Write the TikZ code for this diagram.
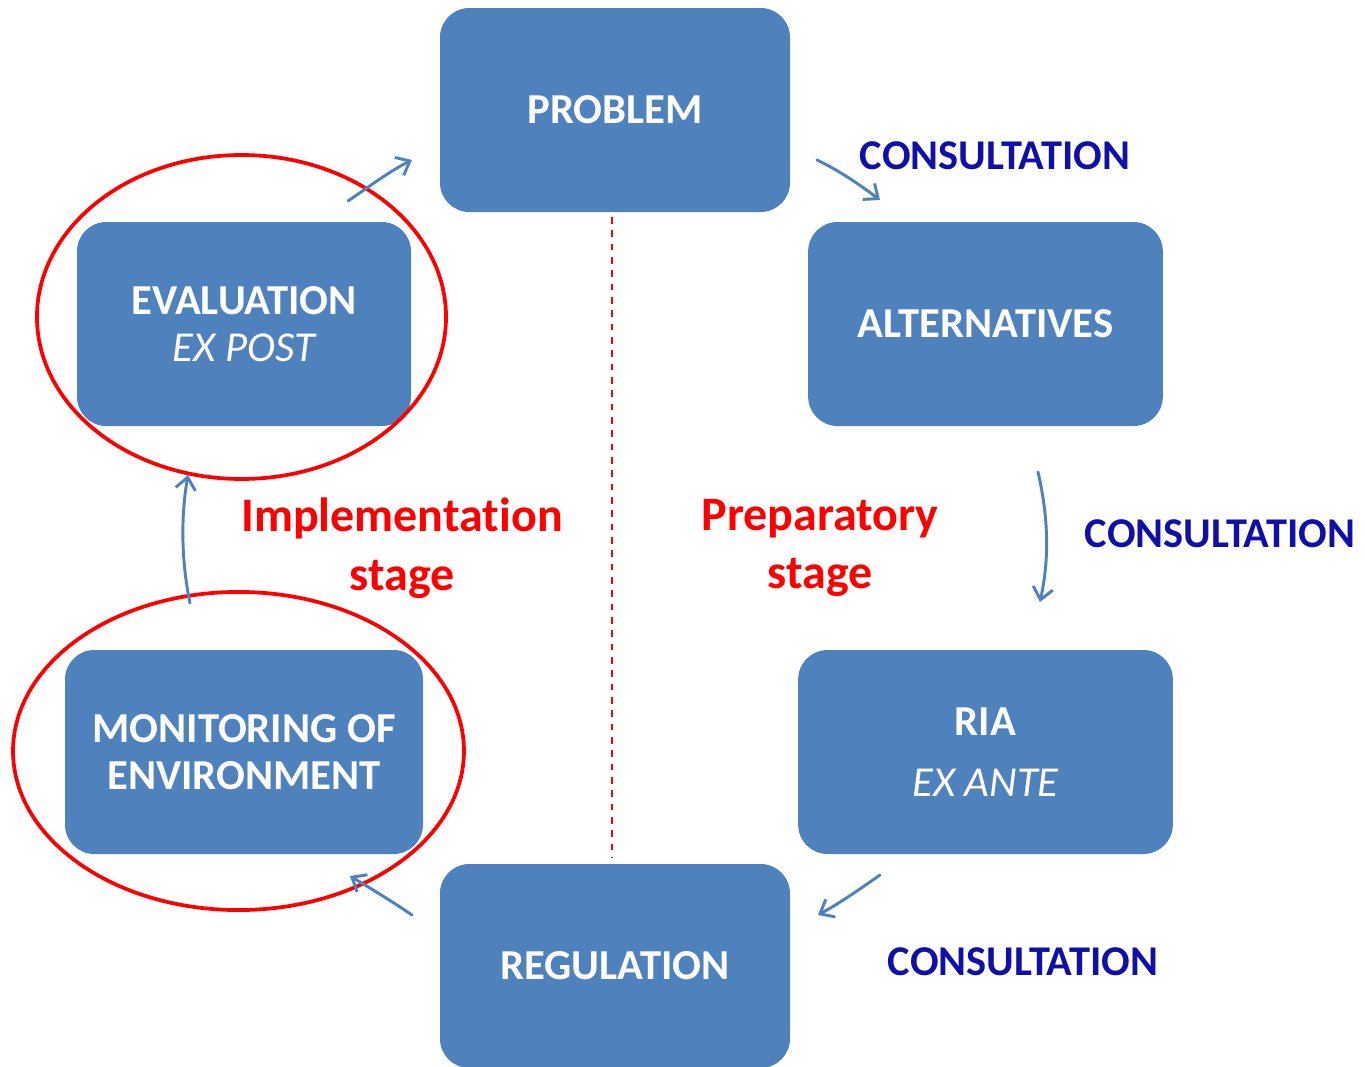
\documentclass[tikz,border=0pt]{standalone}
\usepackage{fontspec}
\setmainfont{Carlito}[Ligatures={NoCommon}]
\usetikzlibrary{arrows.meta}
\definecolor{boxblue}{RGB}{79,129,189}
\definecolor{consblue}{RGB}{16,16,168}
\begin{document}
\begin{tikzpicture}[x=0.75pt,y=-0.75pt,
  stagebox/.style={fill=boxblue, rounded corners=22pt, minimum height=153pt, text=white,
    font=\fontsize{32}{35.5}\selectfont\bfseries, align=center, inner sep=0pt},
  cons/.style={text=consblue, font=\fontsize{31.8}{37}\selectfont\bfseries, inner sep=0pt},
  stagetext/.style={text=red, font=\fontsize{36}{44}\selectfont\bfseries, align=center, inner sep=0pt},
  flow/.style={draw=boxblue, line width=2.2pt, line cap=round,
    -{Straight Barb[length=9pt,width=15pt,line width=2.2pt]}},
  ring/.style={draw=red, line width=2.8pt},
  divider/.style={draw=red, line width=1.3pt, dash pattern=on 5pt off 5pt}]
\useasboundingbox[fill=white] (0,0) rectangle (1365,1067);

% boxes
\node[stagebox, minimum width=262.5pt] (problem) at (615,110) {PROBLEM};
\node[stagebox, minimum width=266pt] (alt) at (985.5,324) {ALTERNATIVES};
\node[stagebox, minimum width=281pt] (ria) at (985.5,752) {RIA\\[10pt]\mdseries\itshape EX ANTE};
\node[stagebox, minimum width=262.5pt] (reg) at (615,966) {REGULATION};
\node[stagebox, minimum width=268.5pt] (mon) at (244,752) {MONITORING OF\\ENVIRONMENT};
\node[stagebox, minimum width=250.5pt] (eval) at (244,324) {EVALUATION\\\mdseries\itshape EX POST};

% ellipses
\draw[ring] (241.5,317) ellipse [x radius=153.4pt, y radius=121.5pt];
\draw[ring] (238.5,751) ellipse [x radius=169.1pt, y radius=119.3pt];

% divider
\coordinate (d1) at (612,217);
\coordinate (d2) at (612,858);
\draw[divider] (d1) -- (d2);

% arrow end points
\coordinate (a1s) at (348,201); \coordinate (a1e) at (412,160);
\coordinate (a2s) at (817,160); \coordinate (a2e) at (880,200);
\coordinate (a3s) at (1038,472); \coordinate (a3e) at (1040,602);
\coordinate (a4s) at (880,875); \coordinate (a4e) at (818,915);
\coordinate (a5s) at (412,915); \coordinate (a5e) at (350,876);
\coordinate (a6s) at (190,603); \coordinate (a6e) at (188,475);

\draw[flow] (a1s) .. controls (370,186) and (390,171) .. (a1e);
\draw[flow] (a2s) .. controls (840,171) and (860,185) .. (a2e);
\draw[flow] (a3s) .. controls (1049,520) and (1049,560) .. (a3e);
\draw[flow] (a4s) .. controls (860,889) and (840,903) .. (a4e);
\draw[flow] (a5s) .. controls (390,900) and (370,888) .. (a5e);
\draw[flow] (a6s) .. controls (181,560) and (181,515) .. (a6e);

% labels
\node[cons] (c1) at (995,156) {CONSULTATION};
\node[cons] (c2) at (1220,534) {CONSULTATION};
\node[cons] (c3) at (1023,962) {CONSULTATION};
\node[stagetext] (impl) at (402,548) {Implementation\\stage};
\node[stagetext] (prep) at (820,548) {Preparatory\\stage};
\end{tikzpicture}
\end{document}
